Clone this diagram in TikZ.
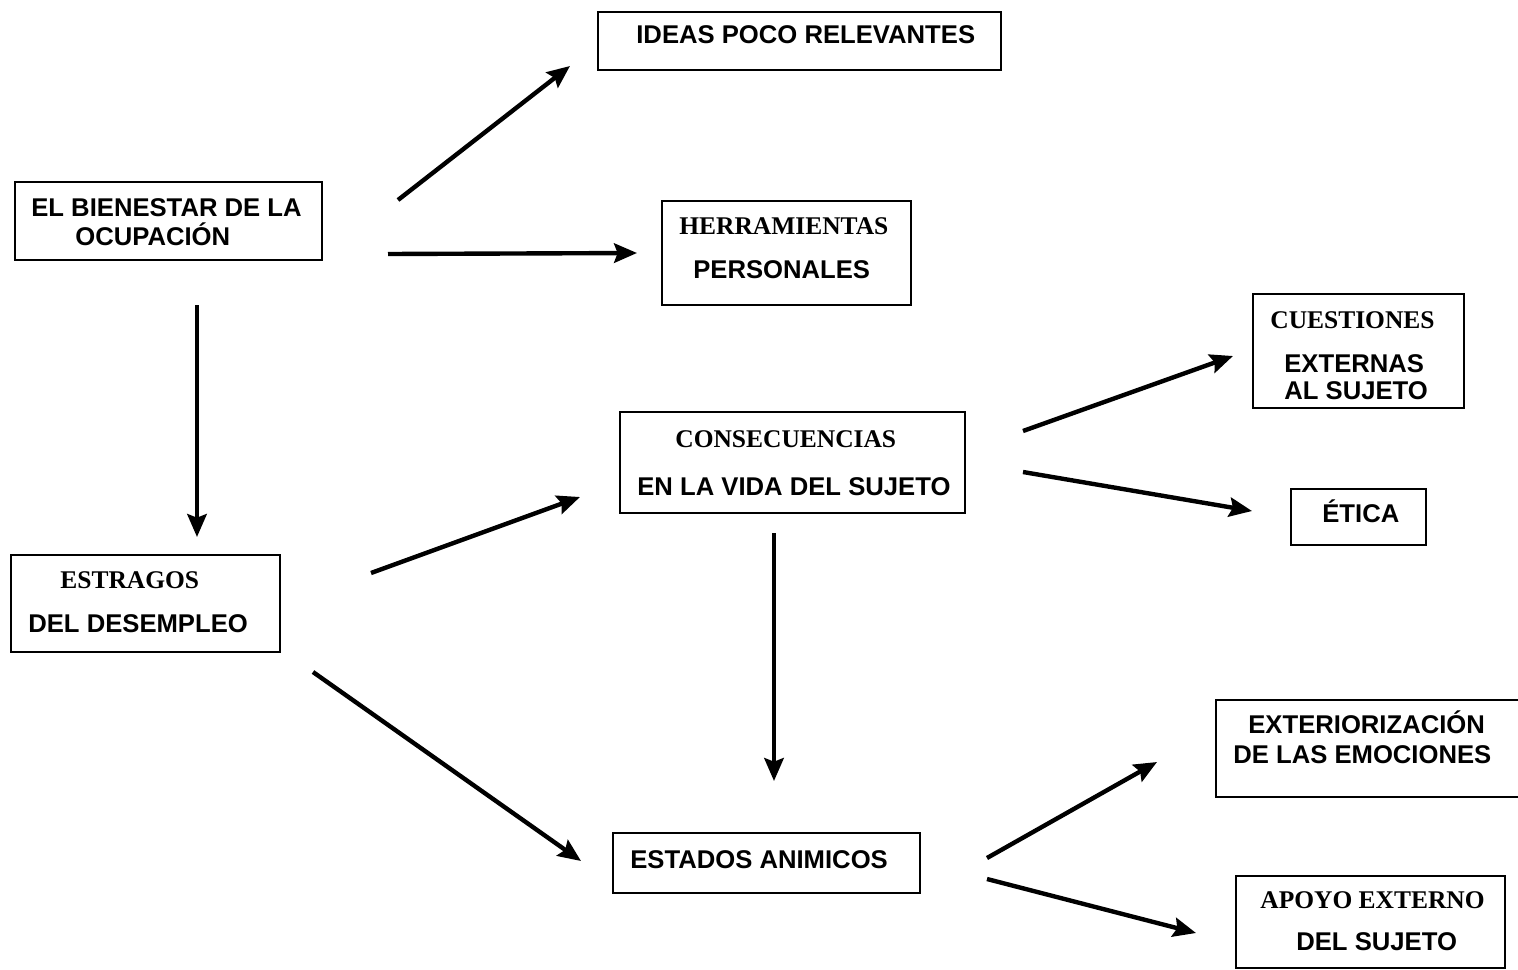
\documentclass[tikz,border=0pt]{standalone}
\usepackage{fontspec}
\usetikzlibrary{arrows.meta}
\newfontfamily\sansfam{Liberation Sans}
\newfontfamily\seriffam{Liberation Serif}
\newcommand\sansB{\sansfam\bfseries\fontsize{14.6}{17}\selectfont}
\newcommand\serifB{\seriffam\bfseries\fontsize{14.5}{17}\selectfont}
\tikzset{
  box/.style={draw, line width=0.8pt, inner sep=0pt, outer sep=0pt, anchor=center},
  sanstxt/.style={font=\sansB, anchor=base west, inner sep=0pt},
  seriftxt/.style={font=\serifB, anchor=base west, inner sep=0pt},
  arr/.style={line width=2.5pt, -{Stealth[length=13pt,width=11pt,inset=2pt]}},
}
\begin{document}
\begin{tikzpicture}[x=0.02cm,y=-0.02cm]
\useasboundingbox (0,0) rectangle (1518,970);
% boxes
\node[box, minimum width=8.06cm, minimum height=1.16cm] (ideas) at (799.5,41) {};
\node[box, minimum width=6.14cm, minimum height=1.56cm] (bien) at (168.5,221) {};
\node[box, minimum width=4.98cm, minimum height=2.08cm] (herr) at (786.5,253) {};
\node[box, minimum width=4.22cm, minimum height=2.28cm] (cuest) at (1358.5,351) {};
\node[box, minimum width=6.90cm, minimum height=2.02cm] (cons) at (792.5,462.5) {};
\node[box, minimum width=2.70cm, minimum height=1.12cm] (etica) at (1358.5,517) {};
\node[box, minimum width=5.38cm, minimum height=1.94cm] (estr) at (145.5,603.5) {};
\node[box, minimum width=6.12cm, minimum height=1.94cm] (exter) at (1369,748.5) {};
\node[box, minimum width=6.14cm, minimum height=1.20cm] (estados) at (766.5,863) {};
\node[box, minimum width=5.38cm, minimum height=1.84cm] (apoyo) at (1370.5,922) {};
% texts
\node[sanstxt] (t1) at (636,43) {IDEAS POCO RELEVANTES};
\node[sanstxt] (t2) at (31,216) {EL BIENESTAR DE LA};
\node[sanstxt] (t3) at (75,245) {OCUPACIÓN};
\node[seriftxt] (t4) at (679,234) {HERRAMIENTAS};
\node[sanstxt] (t5) at (693,278) {PERSONALES};
\node[seriftxt] (t6) at (1270,328) {CUESTIONES};
\node[sanstxt] (t7) at (1284,372) {EXTERNAS};
\node[sanstxt] (t8) at (1284,399) {AL SUJETO};
\node[seriftxt] (t9) at (675,447) {CONSECUENCIAS};
\node[sanstxt] (t10) at (637,495) {EN LA VIDA DEL SUJETO};
\node[sanstxt] (t11) at (1322,522) {ÉTICA};
\node[seriftxt] (t12) at (60,588) {ESTRAGOS};
\node[sanstxt] (t13) at (28,632) {DEL DESEMPLEO};
\node[sanstxt] (t14) at (1248,733) {EXTERIORIZACIÓN};
\node[sanstxt] (t15) at (1233,763) {DE LAS EMOCIONES};
\node[sanstxt] (t16) at (630,868) {ESTADOS ANIMICOS};
\node[seriftxt] (t17) at (1260,908) {APOYO EXTERNO};
\node[sanstxt] (t18) at (1296,950) {DEL SUJETO};
% arrow endpoints
\coordinate (a1s) at (398,200);  \coordinate (a1e) at (570,66);
\coordinate (a2s) at (388,254);  \coordinate (a2e) at (637,253);
\coordinate (a3s) at (197,305);  \coordinate (a3e) at (197,537);
\coordinate (a4s) at (371,573);  \coordinate (a4e) at (580,497);
\coordinate (a5s) at (313,672);  \coordinate (a5e) at (581,861);
\coordinate (a6s) at (774,533);  \coordinate (a6e) at (774,781);
\coordinate (a7s) at (1023,431); \coordinate (a7e) at (1233,356);
\coordinate (a8s) at (1023,472); \coordinate (a8e) at (1252,511);
\coordinate (a9s) at (987,858);  \coordinate (a9e) at (1157,762);
\coordinate (a10s) at (987,879); \coordinate (a10e) at (1196,933);
\draw[arr] (a1s) -- (a1e);
\draw[arr] (a2s) -- (a2e);
\draw[arr] (a3s) -- (a3e);
\draw[arr] (a4s) -- (a4e);
\draw[arr] (a5s) -- (a5e);
\draw[arr] (a6s) -- (a6e);
\draw[arr] (a7s) -- (a7e);
\draw[arr] (a8s) -- (a8e);
\draw[arr] (a9s) -- (a9e);
\draw[arr] (a10s) -- (a10e);
\end{tikzpicture}
\end{document}
